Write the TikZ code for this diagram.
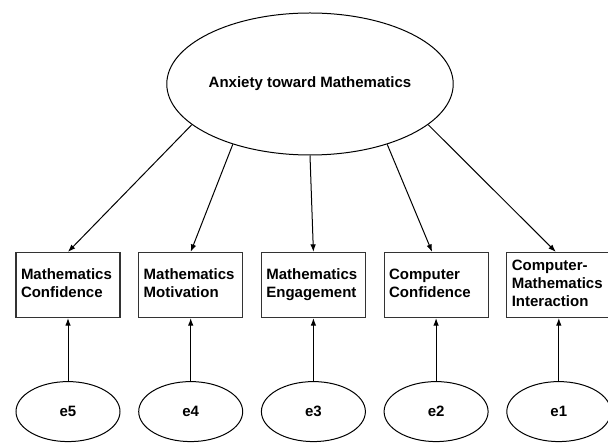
\documentclass[tikz,border=0pt]{standalone}
\usepackage{fontspec}
\setmainfont{Liberation Sans}
\usetikzlibrary{arrows.meta,positioning,shapes.geometric}

\begin{document}
\begin{tikzpicture}[
  x=1pt,y=-1pt,
  node distance=17.5pt,
  font=\bfseries\fontsize{15}{18}\selectfont,
  latent/.style={draw,ellipse,line width=1pt,inner sep=0pt},
  observed/.style={draw=black!80,line width=1.2pt,align=left,text width=94pt,inner xsep=5pt,minimum height=65pt},
  errvar/.style={latent,minimum width=104pt,minimum height=60pt},
  arr/.style={-{Latex[length=7.5pt,width=5.5pt]},line width=1pt}
]
\useasboundingbox (0,0) rectangle (608,443);
\node[latent,minimum width=270pt,minimum height=142pt] (anx) at (310,84) {Anxiety toward Mathematics};
\node[observed] (mcon) at (68,285) {\strut Mathematics\\\strut Confidence};
\node[observed,right=of mcon] (mmot) {\strut Mathematics\\\strut Motivation};
\node[observed,right=of mmot] (meng) {\strut Mathematics\\\strut Engagement};
\node[observed,right=of meng] (ccon) {\strut Computer\\\strut Confidence};
\node[observed,right=of ccon] (cmint) {\strut Computer-\\\strut Mathematics\\\strut Interaction};
% error terms
\node[errvar,below=63pt of mcon] (e5) {e5};
\node[errvar,below=63pt of mmot] (e4) {e4};
\node[errvar,below=63pt of meng] (e3) {e3};
\node[errvar,below=63pt of ccon] (e2) {e2};
\node[errvar,below=63pt of cmint] (e1) {e1};
\draw[arr] (anx.199) -- (mcon.north);
\draw[arr] (anx.218) -- (mmot.north);
\draw[arr] (anx.270) -- (meng.north);
\draw[arr] (anx.322) -- ([xshift=-4pt]ccon.north);
\draw[arr] (anx.341) -- ([xshift=-3pt]cmint.north);
\draw[arr] (e5) -- (mcon);
\draw[arr] (e4) -- (mmot);
\draw[arr] (e3) -- (meng);
\draw[arr] (e2) -- (ccon);
\draw[arr] (e1) -- (cmint);
\end{tikzpicture}
\end{document}
